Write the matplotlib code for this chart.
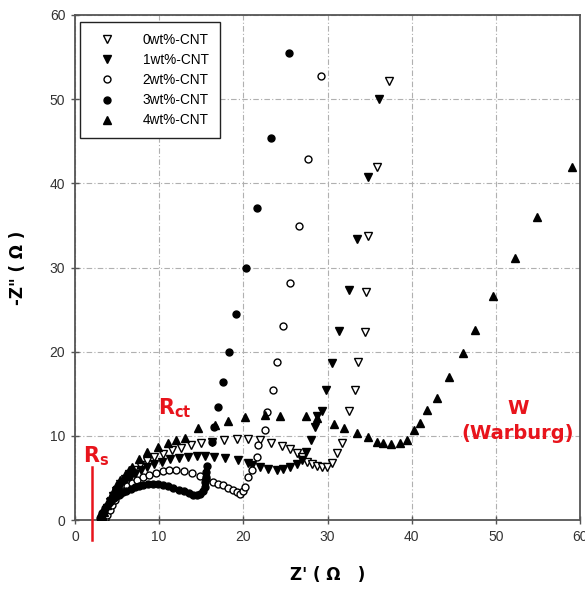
import matplotlib
matplotlib.use("Agg")
import matplotlib.pyplot as plt

labels = ["0wt%-CNT", "1wt%-CNT", "2wt%-CNT", "3wt%-CNT", "4wt%-CNT"]

x0 = [3.6, 3.8, 4.0, 4.3, 4.6, 5.0, 5.4, 5.9, 6.4, 7.0, 7.7, 8.5, 9.4, 10.4, 11.5, 12.6, 13.8, 15.0,
      16.3, 17.7, 19.2, 20.6, 22.0, 23.3, 24.6, 25.6, 26.4, 27.0, 27.6, 28.2, 28.8, 29.4, 29.9, 30.5,
      31.1, 31.7, 32.5, 33.3, 33.6, 34.4, 34.6, 34.8, 35.9, 37.3]
y0 = [0.2, 0.8, 1.5, 2.2, 2.9, 3.6, 4.3, 4.9, 5.5, 6.0, 6.5, 7.0, 7.5, 7.9, 8.3, 8.6, 8.9, 9.1,
      9.3, 9.5, 9.6, 9.6, 9.5, 9.2, 8.8, 8.4, 8.0, 7.5, 6.9, 6.6, 6.4, 6.3, 6.3, 6.8,
      8.0, 9.1, 13.0, 15.4, 18.8, 22.3, 27.1, 33.8, 41.9, 52.2]

x1 = [3.3, 3.5, 3.8, 4.1, 4.5, 4.9, 5.4, 5.9, 6.5, 7.1, 7.8, 8.6, 9.4, 10.3, 11.3, 12.3, 13.4, 14.5,
      15.4, 16.5, 17.8, 19.4, 20.5, 21.0, 22.0, 22.9, 24.0, 24.7, 25.5, 26.4, 27.0, 27.4, 28.0, 28.5,
      28.7, 29.3, 29.8, 30.5, 31.4, 32.5, 33.5, 34.8, 36.1]
y1 = [0.1, 0.7, 1.4, 2.1, 2.8, 3.4, 4.0, 4.5, 5.0, 5.5, 5.9, 6.3, 6.6, 6.9, 7.2, 7.4, 7.5, 7.6,
      7.6, 7.5, 7.4, 7.1, 6.8, 6.5, 6.3, 6.1, 6.0, 6.1, 6.3, 6.7, 7.1, 8.1, 9.5, 11.0,
      12.3, 13.0, 15.4, 18.6, 22.4, 27.3, 33.4, 40.7, 50.0]

x2 = [3.6, 3.8, 4.1, 4.4, 4.8, 5.2, 5.7, 6.2, 6.8, 7.4, 8.1, 8.8, 9.6, 10.4, 11.2, 12.0, 12.9, 13.9,
      14.8, 15.6, 16.4, 17.0, 17.6, 18.2, 18.8, 19.3, 19.6, 20.0, 20.2, 20.5, 21.0, 21.6, 21.7, 22.6,
      22.8, 23.5, 24.0, 24.7, 25.6, 26.6, 27.7, 29.2]
y2 = [0.1, 0.6, 1.2, 1.8, 2.4, 3.0, 3.5, 4.0, 4.4, 4.8, 5.1, 5.4, 5.6, 5.8, 5.9, 5.9, 5.8, 5.6,
      5.2, 4.9, 4.5, 4.3, 4.1, 3.8, 3.6, 3.3, 3.1, 3.4, 3.9, 5.1, 5.9, 7.5, 8.9, 10.7,
      12.8, 15.4, 18.8, 23.1, 28.2, 34.9, 42.9, 52.7]

x3 = [3.0, 3.1, 3.2, 3.4, 3.6, 3.8, 4.0, 4.3, 4.6, 4.9, 5.3, 5.7, 6.1, 6.6, 7.1, 7.6, 8.1, 8.7,
      9.3, 9.9, 10.5, 11.1, 11.7, 12.3, 12.9, 13.5, 14.0, 14.5, 14.9, 15.2, 15.4, 15.5, 15.6, 15.6,
      15.7, 16.3, 16.5, 17.0, 17.6, 18.3, 19.1, 20.3, 21.6, 23.3, 25.4]
y3 = [0.2, 0.5, 0.8, 1.1, 1.4, 1.7, 2.0, 2.3, 2.6, 2.8, 3.1, 3.3, 3.5, 3.7, 3.9, 4.0, 4.2, 4.3,
      4.3, 4.3, 4.2, 4.0, 3.8, 3.6, 3.4, 3.2, 3.0, 3.0, 3.1, 3.4, 3.9, 4.5, 5.1, 5.7,
      6.4, 9.3, 11.0, 13.4, 16.4, 20.0, 24.5, 30.0, 37.1, 45.4, 55.5]

x4 = [3.3, 3.5, 3.8, 4.1, 4.5, 4.9, 5.4, 5.9, 6.4, 6.8, 7.6, 8.6, 9.9, 11.0, 12.0, 13.1, 14.6, 16.6,
      18.2, 20.2, 22.6, 24.3, 27.4, 28.7, 30.8, 32.0, 33.5, 34.8, 35.9, 36.6, 37.6, 38.6, 39.5, 40.3,
      41.0, 41.8, 43.0, 44.4, 46.1, 47.5, 49.7, 52.3, 54.9, 59.0]
y4 = [0.3, 1.0, 1.8, 2.6, 3.3, 4.0, 4.7, 5.3, 5.9, 6.3, 7.2, 8.1, 8.7, 9.1, 9.5, 9.7, 10.9, 11.3,
      11.8, 12.2, 12.5, 12.3, 12.3, 12.1, 11.4, 10.9, 10.3, 9.9, 9.3, 9.1, 9.0, 9.1, 9.5, 10.7,
      11.5, 13.1, 14.5, 17.0, 19.8, 22.6, 26.6, 31.1, 36.0, 42.0]

ticks = [0, 10, 20, 30, 40, 50, 60]

fig = plt.figure(figsize=(5.85, 5.94), dpi=100)
ax = fig.add_axes([75/585, 74/594, 505/585, 505/594])

styles = [
    dict(marker="v", mfc="white", mec="black", ms=6, mew=1.0),
    dict(marker="v", mfc="black", mec="black", ms=6, mew=1.0),
    dict(marker="o", mfc="white", mec="black", ms=5, mew=1.0),
    dict(marker="o", mfc="black", mec="black", ms=5, mew=1.0),
    dict(marker="^", mfc="black", mec="black", ms=6, mew=1.0),
]
series = [(x0, y0), (x1, y1), (x2, y2), (x3, y3), (x4, y4)]
for (xs, ys), st, lab in zip(series, styles, labels):
    ax.plot(xs, ys, linestyle="none", label=lab, zorder=3, **st)

ax.set_xlim(0, 60)
ax.set_ylim(0, 60)
ax.set_xticks(ticks)
ax.set_yticks(ticks)
ax.grid(True, color="#b0b0b0", linestyle=(0, (5, 2, 1, 2)), linewidth=0.8)
for sp in ax.spines.values():
    sp.set_color("#555555")
    sp.set_linewidth(1.3)
ax.tick_params(direction="inout", length=6, width=1, colors="#555555",
               labelcolor="#333333", labelsize=10, pad=4)
for t in ax.get_xticklabels() + ax.get_yticklabels():
    t.set_family(["Liberation Sans Narrow", "Liberation Sans", "DejaVu Sans"])

ax.set_xlabel("Z' ( Ω   )", fontsize=12, fontweight="bold", labelpad=16)
ax.set_ylabel('-Z" ( Ω )', fontsize=12, fontweight="bold", labelpad=16)

leg = ax.legend(loc="upper left", bbox_to_anchor=(5/505, 1 - 7/505), borderaxespad=0,
                frameon=True, fancybox=False, edgecolor="#222222", framealpha=1,
                prop={"family": ["Liberation Sans", "DejaVu Sans"], "size": 9.8},
                handletextpad=1.4, labelspacing=0.45, borderpad=0.8, handlelength=2.4)
leg.get_frame().set_linewidth(1.0)

red = "#e8141c"
ax.text(9.9, 12.5, r"R$_{\mathregular{ct}}$", color=red, fontsize=15, fontweight="bold",
        ha="left", va="baseline")
ax.text(1.0, 6.9, r"R$_{\mathregular{s}}$", color=red, fontsize=15, fontweight="bold",
        ha="left", va="baseline")
ax.plot([2.0, 2.0], [-2.4, 6.3], color=red, linewidth=1.8, clip_on=False, zorder=4)
ax.text(52.6, 13.3, "W", color=red, fontsize=14, fontweight="bold", ha="center", va="center")
ax.text(52.6, 10.3, "(Warburg)", color=red, fontsize=14, fontweight="bold", ha="center", va="center")

fig.savefig("out.png", dpi=100)
